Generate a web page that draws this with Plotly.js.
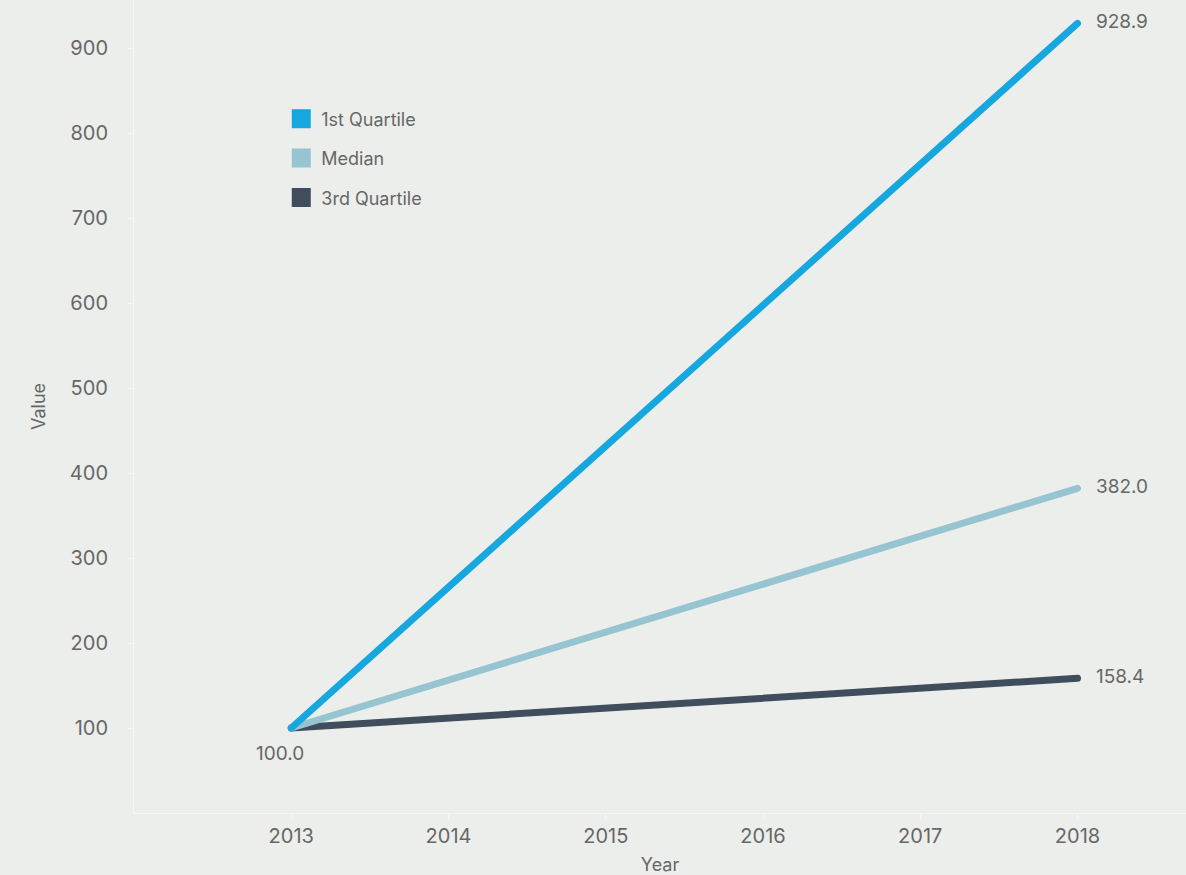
<!DOCTYPE html>
<html>
<head>
<meta charset="utf-8">
<script src="https://cdn.plot.ly/plotly-3.0.1.min.js"></script>
<style>
html,body{margin:0;padding:0;background:#eceeeb;overflow:hidden;}
#chart{width:1186px;height:875px;}
.scatterlayer path.js-line{stroke-linecap:round;stroke-linejoin:round;}
</style>
</head>
<body>
<div id="chart"></div>
<script>
const years = [2013, 2018];
const seriesNames = ["1st Quartile", "Median", "3rd Quartile"];
const q1Values = [100.0, 928.9];
const medianValues = [100.0, 382.0];
const q3Values = [100.0, 158.4];
const colors = ["#16a7df", "#97c4d1", "#404d5c"];
const yTicks = [100, 200, 300, 400, 500, 600, 700, 800, 900];
const xTicks = [2013, 2014, 2015, 2016, 2017, 2018];

const allValues = [q1Values, medianValues, q3Values];
const font = "Inter, 'Open Sans', sans-serif";
const textColor = "#676767";

const traces = [];
// lines (drawn so that the first quartile is on top)
[2, 1, 0].forEach(i => {
  traces.push({
    x: years, y: allValues[i], type: "scatter", mode: "lines",
    name: seriesNames[i], showlegend: false, hoverinfo: "x+y",
    line: {color: colors[i], width: 7}
  });
});
// legend entries with square swatches
[0, 1, 2].forEach(i => {
  traces.push({
    x: [null], y: [null], type: "scatter", mode: "markers",
    name: seriesNames[i], showlegend: true, legendgroup: "g" + i,
    marker: {symbol: "square", size: 16, color: colors[i], line: {color: colors[i], width: 3}}
  });
});

const annotations = [];
allValues.forEach(vals => {
  annotations.push({
    x: years[years.length - 1], y: vals[vals.length - 1],
    text: vals[vals.length - 1].toFixed(1), showarrow: false,
    xanchor: "left", yanchor: "middle", xshift: 16, yshift: 2,
    font: {family: font, size: 19, color: textColor}
  });
});
annotations.push({
  x: years[0], y: q3Values[0], text: q3Values[0].toFixed(1), showarrow: false,
  xanchor: "center", yanchor: "top", xshift: -11, yshift: -12,
  font: {family: font, size: 19, color: textColor}
});

const layout = {
  width: 1186, height: 875,
  paper_bgcolor: "#eceeeb", plot_bgcolor: "#eceeeb",
  margin: {l: 134, r: 0, t: 0, b: 62},
  font: {family: font, size: 19, color: textColor},
  showlegend: true,
  legend: {
    x: 0.140, y: 0.8764, xanchor: "left", yanchor: "top",
    bgcolor: "rgba(0,0,0,0)", font: {family: font, size: 18, color: textColor},
    tracegroupgap: 13, itemwidth: 30, traceorder: "grouped"
  },
  xaxis: {
    range: [2012, 2018.69], tickvals: xTicks, ticktext: xTicks.map(String),
    showgrid: false, zeroline: false, showline: true, linecolor: "#f6f6f4", linewidth: 1,
    ticks: "outside", ticklen: 5, tickcolor: "#f6f6f4",
    tickfont: {family: font, size: 20, color: textColor},
    title: {text: "Year", standoff: 11, font: {family: font, size: 18, color: textColor}}
  },
  yaxis: {
    range: [0, 956.5], tickvals: yTicks, ticktext: yTicks.map(String),
    showgrid: false, zeroline: false, showline: true, linecolor: "#f6f6f4", linewidth: 1,
    ticks: "outside", ticklen: 5, tickcolor: "#f6f6f4", ticklabelstandoff: 16,
    tickfont: {family: font, size: 20, color: textColor},
    title: {text: "Value", standoff: 19, font: {family: font, size: 18, color: textColor}}
  },
  annotations: annotations
};

Plotly.newPlot("chart", traces, layout, {displayModeBar: false, staticPlot: true});
</script>
</body>
</html>
